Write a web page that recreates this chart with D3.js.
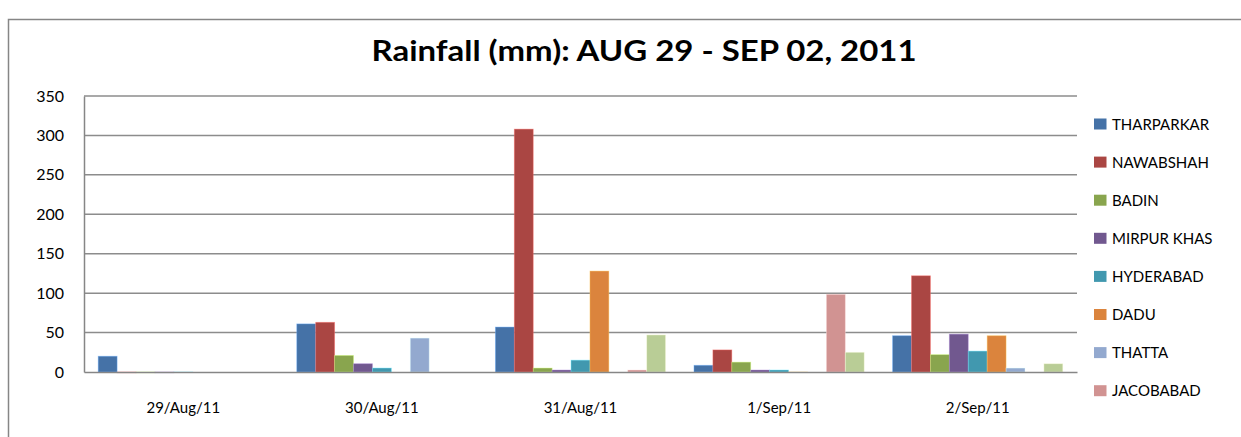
<!DOCTYPE html>
<html>
<head>
<meta charset="utf-8">
<script src="https://cdn.jsdelivr.net/npm/d3@7"></script>
<style>
  body { margin: 0; background: #fff; }
  text { font-family: Lato, "Open Sans", sans-serif; fill: #000; }
</style>
</head>
<body>
<div id="chart"></div>
<script>
// Chart Data
const dates = ["29/Aug/11", "30/Aug/11", "31/Aug/11", "1/Sep/11", "2/Sep/11"];
const stations = ["THARPARKAR", "NAWABSHAH", "BADIN", "MIRPUR KHAS", "HYDERABAD", "DADU", "THATTA", "JACOBABAD", "SERIES 9"];
const tharparkar = [20, 61, 57, 8.5, 46];
const nawabshah = [-1, 63, 308, 28, 122];
const badin = [-1, 21, 5, 12.5, 22];
const mirpurKhas = [-1, 10.5, 2.5, 2.5, 48];
const hyderabad = [-0.5, 5, 15, 2.5, 26.5];
const dadu = [0, 0, 128, -0.5, 46];
const thatta = [0, 43, 0, 0, 5];
const jacobabad = [0, 0, 2.5, 98.5, 0];
const series9 = [0, 0, 47, 25, 10.5];
const yTicks = [0, 50, 100, 150, 200, 250, 300, 350];
const colors = ["#4572A7", "#AA4643", "#89A54E", "#71588F", "#4198AF", "#DB843D", "#93A9CF", "#D19392", "#B9CD96"];

// Legend only shows first 8 (last entry is clipped in the original)
const legendCount = 8;

let w = 1241, h = 437;
let margin = { left: 84, right: 1077, top: 96, bottom: 372 };

let svg = d3.select("#chart").append("svg").attr("width", w).attr("height", h);

// Outer chart frame
svg.append("rect").attr("x", 8.5).attr("y", 19.5).attr("width", 1250).attr("height", 450)
  .attr("fill", "none").attr("stroke", "#868686").attr("stroke-width", 1.5);

// Title
svg.append("text").attr("x", 644).attr("y", 61).attr("text-anchor", "middle")
  .attr("font-size", 29).attr("font-weight", "bold")
  .attr("textLength", 545).attr("lengthAdjust", "spacingAndGlyphs")
  .text("Rainfall (mm): AUG 29 - SEP 02, 2011");

// Scales - bars ~18.9 px wide with a 150% gap between groups
let x0 = d3.scaleBand().domain(dates).range([margin.left, margin.right]).padding(0);
let barW = x0.bandwidth() / 10.5;
let x1 = d3.scaleBand().domain(stations).range([barW * 0.75, barW * 9.75]).padding(0);
let y = d3.scaleLinear().domain([0, 350]).range([margin.bottom, margin.top]);

// Gridlines
svg.append("g").selectAll("line").data(yTicks.filter(d => d > 0)).enter().append("line")
  .attr("x1", margin.left).attr("x2", margin.right)
  .attr("y1", d => y(d)).attr("y2", d => y(d))
  .attr("stroke", "#8c8c8c").attr("stroke-width", 1.5);

// Y Axis
let yAxis = svg.append("g").attr("transform", "translate(" + margin.left + ",0)")
  .call(d3.axisLeft(y).tickValues(yTicks).tickSize(0).tickPadding(20));
yAxis.select(".domain").attr("stroke", "#868686").attr("stroke-width", 1.5);
yAxis.selectAll("text").attr("font-size", 16).attr("font-family", "Lato, sans-serif").attr("fill", "#000");

// Bars
let allValues = [tharparkar, nawabshah, badin, mirpurKhas, hyderabad, dadu, thatta, jacobabad, series9];
let groups = svg.append("g").selectAll("g").data(dates).enter().append("g")
  .attr("transform", d => "translate(" + x0(d) + ",0)");
groups.selectAll("rect").data((d, i) => stations.map((s, j) => ({ s: s, j: j, v: allValues[j][i] })))
  .enter().append("rect")
  .attr("x", d => x1(d.s))
  .attr("width", x1.bandwidth())
  .attr("y", d => Math.min(y(d.v), y(0)))
  .attr("height", d => Math.abs(y(0) - y(d.v)))
  .attr("fill", d => colors[d.j])
  .attr("stroke", d => d3.color(colors[d.j]).brighter(1.2))
  .attr("stroke-opacity", 0.5)
  .attr("stroke-width", 0.8);

// X Axis
let xAxis = svg.append("g").attr("transform", "translate(0," + margin.bottom + ")")
  .call(d3.axisBottom(x0).tickSize(0).tickPadding(30).tickSizeOuter(0));
xAxis.select(".domain").attr("stroke", "#868686").attr("stroke-width", 1.5);
xAxis.selectAll("text").attr("font-size", 15).attr("font-family", "Lato, sans-serif").attr("fill", "#000");

// Legend
let legend = svg.append("g").selectAll("g").data(stations.slice(0, legendCount)).enter().append("g")
  .attr("transform", (d, i) => "translate(1094," + (118.5 + i * 38.1) + ")");
legend.append("rect").attr("width", 12.5).attr("height", 11).attr("fill", (d, i) => colors[i]);
legend.append("text").attr("x", 18).attr("y", 11).attr("font-size", 15).text(d => d);
</script>
</body>
</html>
